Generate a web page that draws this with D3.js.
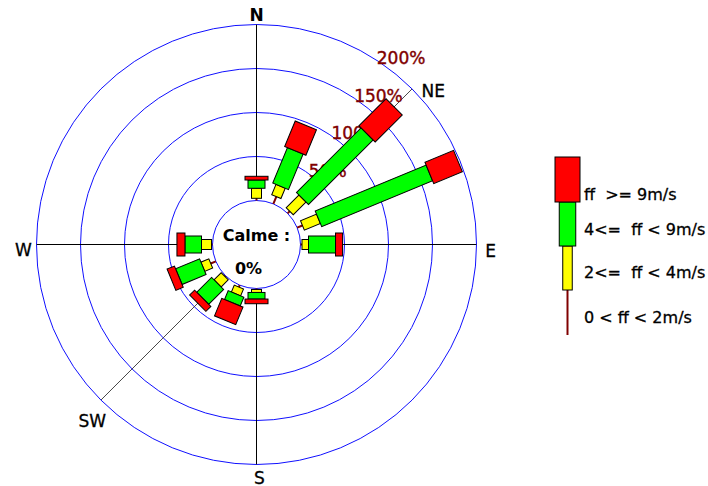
<!DOCTYPE html>
<html>
<head>
<meta charset="utf-8">
<script src="https://cdn.jsdelivr.net/npm/d3@7"></script>
<style>
  html, body { margin: 0; padding: 0; background: #fff; }
  svg { display: block; font-family: "DejaVu Sans", sans-serif; }
  text { white-space: pre; }
</style>
</head>
<body>
<svg id="rose" width="708" height="486"></svg>
<script>
// Wind directions (16 sectors, clockwise from North)
const directions = ['N', 'NNE', 'NE', 'ENE', 'E', 'ESE', 'SE', 'SSE',
                    'S', 'SSW', 'SW', 'WSW', 'W', 'WNW', 'NW', 'NNW'];

// Frequencies (%) per speed class, stacked outward
const ff0to2 = [2.5, 8.9, 3.4, 6.5, 1.7, 0, 0, 0, 1.1, 2.3, 1.1, 6.3, 1.1, 0, 0, 0];
const ff2to4 = [11.4, 12.7, 20.5, 19.7, 7.4, 0, 0, 0, 3.4, 8.5, 11.4, 9.7, 11.4, 0, 0, 0];
const ff4to9 = [9.4, 43.6, 103.8, 136.4, 30.7, 0, 0, 0, 7.5, 10.8, 23.9, 29.5, 18.8, 0, 0, 0];
const ff9up  = [4.2, 31.3, 43.5, 35.2, 8.0, 0, 0, 0, 5.3, 21.6, 8.0, 9.1, 9.1, 0, 0, 0];

const ringTicks = [0, 50, 100, 150, 200];
const ringLabels = ['', '50%', '100%', '150%', '200%'];
const calmValue = '0%';

const classKeys = ['c0', 'c1', 'c2', 'c3'];
const classLabels = ['0 < ff < 2m/s', '2<=  ff < 4m/s', '4<=  ff < 9m/s', 'ff  >= 9m/s'];

// Styles
const COLORS = { c0: '#800000', c1: '#ffff00', c2: '#00ff00', c3: '#ff0000' };
const WIDTHS = { c0: 2, c1: 10, c2: 17, c3: 23 };
const RING_COLOR = '#1010ff';
const LABEL_RED = '#800000';

const svg = d3.select('#rose');
const cx = 256.5, cy = 244.5;

const r = d3.scaleLinear().domain([0, 200]).range([44, 220]);
const angle = d3.scaleLinear().domain([0, directions.length]).range([0, 360]);
const R = r(200);

const table = directions.map((d, i) => ({
  dir: d, c0: ff0to2[i], c1: ff2to4[i], c2: ff4to9[i], c3: ff9up[i]
}));
const series = d3.stack().keys(classKeys)(table);

const g = svg.append('g').attr('transform', `translate(${cx},${cy})`);

// rings
g.append('g').selectAll('circle')
  .data(ringTicks.slice(1))
  .join('circle')
  .attr('r', d => r(d))
  .attr('fill', 'none')
  .attr('stroke', RING_COLOR)
  .attr('stroke-width', 1);

// main axes
g.append('line').attr('x1', 0).attr('x2', 0).attr('y1', -R).attr('y2', R)
  .attr('stroke', '#000').attr('stroke-width', 1);
g.append('line').attr('x1', -R).attr('x2', R).attr('y1', 0).attr('y2', 0)
  .attr('stroke', '#000').attr('stroke-width', 1);

// NE / SW guide line
const diag = [2, 10];
g.append('g').selectAll('line')
  .data(diag)
  .join('line')
  .attr('x1', 0).attr('y1', 0)
  .attr('x2', i => R * Math.sin(angle(i) * Math.PI / 180))
  .attr('y2', i => -R * Math.cos(angle(i) * Math.PI / 180))
  .attr('stroke', '#333')
  .attr('stroke-width', 0.9);

// ring labels
const labA = 31 * Math.PI / 180;
g.append('g').selectAll('text')
  .data(ringTicks.slice(1))
  .join('text')
  .attr('x', d => r(d) * Math.sin(labA) + 7)
  .attr('y', d => -r(d) * Math.cos(labA) + 8)
  .attr('fill', LABEL_RED)
  .attr('stroke', LABEL_RED)
  .attr('stroke-width', 0.4)
  .attr('font-size', 17)
  .text((d, i) => ringLabels[i + 1]);

// cardinal labels
const cardinal = [
  { t: 'N', x: 0, y: -R - 4, a: 'middle', w: 'bold' },
  { t: 'S', x: 3, y: R + 19, a: 'middle', w: 'normal' },
  { t: 'W', x: -R - 13, y: 11, a: 'middle', w: 'normal' },
  { t: 'E', x: R + 14, y: 12, a: 'middle', w: 'normal' },
  { t: 'NE', x: 165, y: -148, a: 'start', w: 'normal' },
  { t: 'SW', x: -178, y: 182, a: 'start', w: 'normal' }
];
g.append('g').selectAll('text')
  .data(cardinal)
  .join('text')
  .attr('x', d => d.x).attr('y', d => d.y)
  .attr('text-anchor', d => d.a)
  .attr('font-size', 17)
  .attr('font-weight', d => d.w)
  .attr('fill', '#000')
  .attr('stroke', '#000')
  .attr('stroke-width', d => d.w === 'bold' ? 0 : 0.3)
  .text(d => d.t);

// calm circle
g.append('circle')
  .attr('r', r(0))
  .attr('fill', '#fff')
  .attr('stroke', RING_COLOR)
  .attr('stroke-width', 1);

// bars
const barLayer = g.append('g');
series.forEach(s => {
  const key = s.key;
  s.forEach((d, i) => {
    if (d[1] - d[0] <= 0) return;
    const bg = barLayer.append('g').attr('transform', `rotate(${angle(i)})`);
    if (key === 'c0') {
      bg.append('line')
        .attr('x1', 0).attr('x2', 0)
        .attr('y1', -r(d[0])).attr('y2', -r(d[1]))
        .attr('stroke', COLORS[key])
        .attr('stroke-width', WIDTHS[key]);
    } else {
      bg.append('rect')
        .attr('x', -WIDTHS[key] / 2)
        .attr('y', -r(d[1]))
        .attr('width', WIDTHS[key])
        .attr('height', r(d[1]) - r(d[0]))
        .attr('fill', COLORS[key])
        .attr('stroke', '#000')
        .attr('stroke-width', 1);
    }
  });
});

// calm text
g.append('text').attr('x', 0).attr('y', -4).attr('text-anchor', 'middle')
  .attr('font-size', 16).attr('font-weight', 'bold').text('Calme :');
g.append('text').attr('x', -8).attr('y', 29).attr('text-anchor', 'middle')
  .attr('font-size', 16).attr('font-weight', 'bold').text(calmValue);

// legend (drawn bottom-up like the stack)
const legendX = 567.5;
const legendBottom = 335;
const legendSeg = [45, 44, 44, 45];
const lg = svg.append('g');
let y = legendBottom;
classKeys.forEach((k, i) => {
  const h = legendSeg[i];
  const top = y - h;
  if (k === 'c0') {
    lg.append('line').attr('x1', legendX).attr('x2', legendX)
      .attr('y1', top).attr('y2', y)
      .attr('stroke', COLORS[k]).attr('stroke-width', 2);
  } else {
    const w = k === 'c3' ? 25 : k === 'c2' ? 16.5 : 9.5;
    lg.append('rect').attr('x', legendX - w / 2).attr('y', top)
      .attr('width', w).attr('height', h)
      .attr('fill', COLORS[k]).attr('stroke', '#000').attr('stroke-width', 1);
  }
  y = top;
});
const legendBaselines = [323, 278, 235, 200];
lg.selectAll('text.leg')
  .data(classLabels)
  .join('text')
  .attr('class', 'leg')
  .attr('x', 584)
  .attr('y', (d, i) => legendBaselines[i])
  .attr('font-size', 16)
  .attr('fill', '#000')
  .attr('stroke', '#000')
  .attr('stroke-width', 0.3)
  .text(d => d);
</script>
</body>
</html>
